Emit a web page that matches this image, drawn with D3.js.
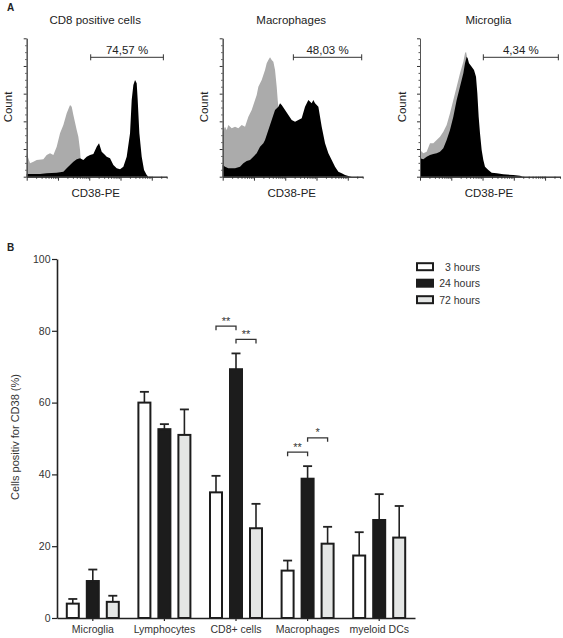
<!DOCTYPE html>
<html><head><meta charset="utf-8">
<script src="https://cdn.jsdelivr.net/npm/d3@7"></script>
<style>body{margin:0;background:#fff} text{font-family:"Liberation Sans",Arial,Helvetica,sans-serif}</style>
</head><body><svg id="c" width="563" height="638"></svg>
<script>
// ---------- Panel B data ----------
const categories = ["Microglia", "Lymphocytes", "CD8+ cells", "Macrophages", "myeloid DCs"];
const seriesNames = ["3 hours", "24 hours", "72 hours"];
const mean3h  = [4.0, 60.0, 35.0, 13.2, 17.4];
const mean24h = [10.3, 52.6, 69.3, 38.8, 27.3];
const mean72h = [4.5, 51.0, 25.0, 20.7, 22.4];
const err3h   = [1.3, 3.0, 4.6, 2.8, 6.5];
const err24h  = [3.2, 1.4, 4.4, 3.5, 7.2];
const err72h  = [1.7, 7.1, 6.8, 4.7, 8.8];
const yTicks  = [0, 20, 40, 60, 80, 100];
const sigCategory = ["CD8+ cells", "CD8+ cells", "Macrophages", "Macrophages"];
const sigFrom  = [0, 1, 0, 1];
const sigTo    = [1, 2, 1, 2];
const sigLevel = [81.3, 77.6, 46.2, 50.2];
const sigLabel = ["**", "**", "**", "*"];

// ---------- Panel A data (channel, count; arbitrary units) ----------
const cd8Gray = [[0,70],[10,40],[20,45],[30,50],[50,52],[60,65],[70,70],[80,65],[90,90],[100,130],[110,155],[120,190],[130,215],[135,210],[140,185],[150,140],[155,120],[160,80],[162,50],[165,0]];
const cd8Black = [[0,8],[40,8],[60,10],[90,12],[110,15],[120,25],[130,35],[140,45],[150,52],[160,55],[170,50],[180,60],[190,65],[200,68],[210,90],[217,100],[225,75],[235,65],[240,60],[250,55],[260,35],[270,25],[280,22],[290,30],[300,60],[310,130],[315,230],[320,275],[325,290],[330,280],[333,230],[338,130],[345,60],[352,20],[360,5],[365,0]];
const macGray = [[0,135],[7,150],[12,140],[17,155],[27,145],[37,150],[47,145],[57,155],[67,150],[77,180],[87,200],[97,230],[102,245],[107,270],[117,290],[127,320],[132,340],[137,350],[142,358],[147,350],[152,345],[157,320],[162,270],[165,230],[167,210],[175,0]];
const macBlack = [[0,35],[7,30],[17,25],[37,25],[52,30],[62,40],[72,47],[82,50],[92,60],[102,70],[112,90],[122,100],[127,110],[137,140],[147,170],[157,200],[167,210],[172,220],[177,215],[187,200],[197,185],[207,170],[217,165],[227,170],[237,175],[247,210],[257,230],[267,220],[272,230],[277,220],[287,210],[297,150],[307,100],[317,70],[327,50],[337,30],[347,15],[357,10],[367,5],[377,2],[387,0]];
const micGray = [[0,80],[10,70],[20,75],[30,100],[40,100],[50,110],[60,120],[70,135],[80,155],[90,190],[100,230],[110,270],[120,310],[130,345],[135,370],[138,375],[142,355],[146,330],[150,0]];
const micBlack = [[0,55],[10,52],[20,60],[30,65],[40,68],[50,70],[60,75],[70,85],[80,110],[90,140],[100,180],[110,230],[120,270],[130,310],[135,340],[140,360],[143,355],[147,340],[155,330],[162,320],[168,300],[172,250],[176,180],[180,130],[185,80],[190,50],[195,30],[205,20],[215,12],[230,10],[250,7],[280,5],[300,3],[310,0]];
const panelTitles = ["CD8 positive cells", "Macrophages", "Microglia"];
const gateStart = [192, 212, 190];
const gateEnd   = [410, 417, 415];
const gateLabels = ["74,57 %", "48,03 %", "4,34 %"];

const svg = d3.select("#c");
const ink = "#222";

// ---------- Panel A ----------
svg.append("text").attr("x", 7).attr("y", 11).attr("font-size", 10).attr("font-weight", "bold").attr("fill", ink).text("A");

const panelLefts = [26.7, 222.7, 420];
const grays = [cd8Gray, macGray, micGray];
const blacks = [cd8Black, macBlack, micBlack];
const hTop = 38.3, hBot = 176.7, hW = 140;

panelLefts.forEach((left, i) => {
  const g = svg.append("g");
  const x = d3.scaleLinear().domain([0, 420]).range([left, left + hW]);
  const y = d3.scaleLinear().domain([0, 415]).range([hBot, hTop]);
  const area = d3.area().x(d => x(d[0])).y0(y(0)).y1(d => y(d[1]));
  g.append("path").datum(grays[i]).attr("d", area).attr("fill", "#ababab");
  g.append("path").datum(blacks[i]).attr("d", area).attr("fill", "#000");

  // log x axis (decades with minor ticks)
  const xl = d3.scaleLog().domain([1, 30000]).range([left, left + hW]);
  const majors = [1, 10, 100, 1000, 10000];
  const minors = [];
  majors.forEach(m => { for (let k = 2; k <= 9; k++) if (m * k <= 30000) minors.push(m * k); });
  g.append("g").attr("transform", `translate(0,${hBot})`)
    .call(d3.axisBottom(xl).tickValues(majors).tickSize(4).tickSizeOuter(0).tickFormat(""))
    .call(s => s.selectAll("path,line").attr("stroke", "#333"));
  g.append("g").attr("transform", `translate(0,${hBot})`)
    .call(d3.axisBottom(xl).tickValues(minors).tickSize(2).tickSizeOuter(0).tickFormat(""))
    .call(s => s.selectAll("path,line").attr("stroke", "#333"));

  // y axis
  const ya = d3.scaleLinear().domain([0, 5]).range([hBot, hTop]);
  g.append("g").attr("transform", `translate(${left},0)`)
    .call(d3.axisLeft(ya).tickValues([0,1,2,3,4,5]).tickSize(3).tickSizeOuter(0).tickFormat(""))
    .call(s => s.selectAll("path,line").attr("stroke", "#333"));
  g.append("g").attr("transform", `translate(${left},0)`)
    .call(d3.axisLeft(ya).tickValues(d3.range(0, 5, 0.25).filter(v => v % 1 !== 0)).tickSize(1.5).tickSizeOuter(0).tickFormat(""))
    .call(s => s.selectAll("path,line").attr("stroke", "#555"));

  // texts
  g.append("text").attr("x", left + hW / 2 - 1.5).attr("y", 24).attr("text-anchor", "middle")
    .attr("font-size", 11.5).attr("fill", ink).text(panelTitles[i]);
  g.append("text").attr("x", left + hW / 2 - 1).attr("y", 197).attr("text-anchor", "middle")
    .attr("font-size", 11.5).attr("fill", ink).text("CD38-PE");
  g.append("text").attr("transform", `translate(${left - 14.5},107) rotate(-90)`).attr("text-anchor", "middle")
    .attr("font-size", 11.5).attr("fill", ink).text("Count");

  // gate
  const gy = 57.3;
  const gx0 = x(gateStart[i]), gx1 = x(gateEnd[i]);
  g.append("line").attr("x1", gx0).attr("x2", gx1).attr("y1", gy).attr("y2", gy).attr("stroke", "#333").attr("stroke-width", 1);
  [gx0, gx1].forEach(xx => g.append("line").attr("x1", xx).attr("x2", xx).attr("y1", gy - 3).attr("y2", gy + 3).attr("stroke", "#333").attr("stroke-width", 1));
  g.append("text").attr("x", (gx0 + gx1) / 2).attr("y", 53.5).attr("text-anchor", "middle")
    .attr("font-size", 11.5).attr("fill", ink).text(gateLabels[i]);
});

// ---------- Panel B ----------
svg.append("text").attr("x", 7).attr("y", 250.5).attr("font-size", 10).attr("font-weight", "bold").attr("fill", ink).text("B");

const y = d3.scaleLinear().domain([0, 100]).range([618, 259]);
const xb = d3.scaleBand().domain(categories).range([57, 415]).padding(0);
const xs = d3.scaleBand().domain([0, 1, 2]).range([-30, 30]).paddingInner(0.3).paddingOuter(0.15);
const means = [mean3h, mean24h, mean72h];
const errs = [err3h, err24h, err72h];
const fills = ["#ffffff", "#1c1c1c", "#e4e6e5"];
const center = c => xb(c) + xb.bandwidth() / 2;

const barsG = svg.append("g");
categories.forEach((c, ci) => {
  [0, 1, 2].forEach(si => {
    const v = means[si][ci], e = errs[si][ci];
    const bx = center(c) + xs(si);
    const cx = bx + xs.bandwidth() / 2;
    barsG.append("line").attr("x1", cx).attr("x2", cx).attr("y1", y(v)).attr("y2", y(v + e))
      .attr("stroke", "#222").attr("stroke-width", 1.6);
    barsG.append("line").attr("x1", cx - 4.5).attr("x2", cx + 4.5).attr("y1", y(v + e)).attr("y2", y(v + e))
      .attr("stroke", "#222").attr("stroke-width", 1.8);
    barsG.append("rect").attr("x", bx + 1).attr("width", xs.bandwidth() - 2)
      .attr("y", y(v)).attr("height", y(0) - y(v))
      .attr("fill", fills[si]).attr("stroke", "#1c1c1c").attr("stroke-width", 2);
  });
});

// axes
svg.append("g").attr("transform", "translate(57,0)")
  .call(d3.axisLeft(y).tickValues(yTicks).tickSize(5).tickPadding(1.5).tickSizeOuter(0))
  .call(s => { s.select(".domain").attr("stroke", "#222").attr("stroke-width", 1.6);
               s.selectAll("line").attr("stroke", "#222").attr("stroke-width", 1.2);
               s.selectAll("text").attr("font-size", 10.5).attr("fill", "#333").attr("font-family", "Liberation Sans, Arial, sans-serif"); });
svg.append("g").attr("transform", "translate(0,618)")
  .call(d3.axisBottom(xb).tickSize(3).tickPadding(4.5).tickSizeOuter(0))
  .call(s => { s.select(".domain").attr("stroke", "#222").attr("stroke-width", 1.6);
               s.selectAll("line").attr("stroke", "#222").attr("stroke-width", 1.2);
               s.selectAll("text").attr("font-size", 10.5).attr("fill", "#333").attr("font-family", "Liberation Sans, Arial, sans-serif"); });

svg.append("text").attr("transform", "translate(18.5,437) rotate(-90)").attr("text-anchor", "middle")
  .attr("font-size", 11).attr("fill", "#333").text("Cells positiv for CD38 (%)");

// significance brackets
sigCategory.forEach((c, i) => {
  const x0 = center(c) + xs(sigFrom[i]) + xs.bandwidth() / 2;
  const x1 = center(c) + xs(sigTo[i]) + xs.bandwidth() / 2;
  const yy = y(sigLevel[i]);
  svg.append("path").attr("d", `M${x0},${yy + 4}V${yy}H${x1}V${yy + 4}`)
    .attr("fill", "none").attr("stroke", "#333").attr("stroke-width", 1.3);
  svg.append("text").attr("x", (x0 + x1) / 2).attr("y", yy - 1.5).attr("text-anchor", "middle")
    .attr("font-size", 11).attr("fill", "#333").text(sigLabel[i]);
});

// legend
seriesNames.forEach((s, i) => {
  const cy = 266.7 + i * 16.5;
  svg.append("rect").attr("x", 417).attr("y", cy - 3.5).attr("width", 16).attr("height", 7)
    .attr("fill", fills[i]).attr("stroke", "#1c1c1c").attr("stroke-width", 2);
  svg.append("text").attr("x", 480).attr("y", cy + 3.8).attr("text-anchor", "end")
    .attr("font-size", 10.5).attr("fill", "#333").text(s);
});
</script></body></html>
